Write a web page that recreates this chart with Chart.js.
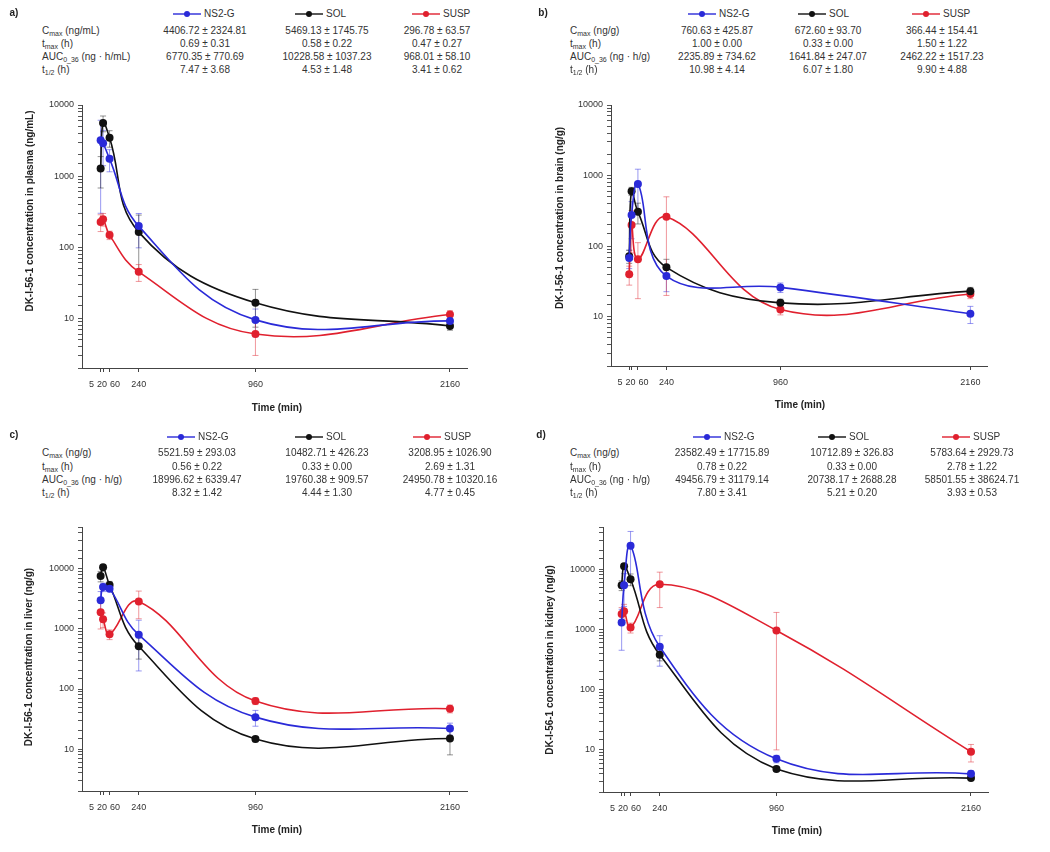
<!DOCTYPE html>
<html>
<head>
<meta charset="utf-8">
<script src="https://cdn.jsdelivr.net/npm/chart.js@4.4.1/dist/chart.umd.min.js"></script>
<style>
  body { margin: 0; background: #fff; }
  #page { position: relative; width: 1050px; height: 852px; overflow: hidden; font-family: "Liberation Sans", Arial, sans-serif; color: #333; }
  canvas { position: absolute; }
  .t { position: absolute; font-size: 10px; line-height: 1; white-space: nowrap; }
  .c { transform: translate(-50%, -50%); }
  .l { transform: translateY(-50%); }
  .b { font-weight: bold; color: #222; }
  .rot { transform: translate(-50%, -50%) rotate(-90deg); }
  sub { font-size: 7px; vertical-align: -2px; }
</style>
</head>
<body>
<div id="page"></div>
<script>
// sampling times (min) and tick labels
const times = [5, 20, 60, 240, 960, 2160];
const xTickLabels = ['5', '20', '60', '240', '960', '2160'];
const seriesNames = ['NS2-G', 'SOL', 'SUSP'];
const seriesColors = ['#2a2ad8', '#111111', '#e0202e'];
const errColors = ['rgba(70,70,230,0.55)', 'rgba(40,40,40,0.5)', 'rgba(225,50,60,0.5)'];

// a) plasma (ng/mL)
const plasmaNS2G = [3200, 2900, 1750, 198, 9.5, 9.2];
const plasmaNS2GSd = [2900, 1500, 600, 100, 4, 1.5];
const plasmaSOL = [1280, 5600, 3450, 163, 16.5, 7.8];
const plasmaSOLSd = [600, 1400, 900, 120, 9, 1];
const plasmaSUSP = [226, 248, 148, 45, 6.0, 11.3];
const plasmaSUSPSd = [60, 50, 20, 12, 3, 1.5];

// b) brain (ng/g)
const brainNS2G = [68, 277, 760, 37.6, 26, 11];
const brainNS2GSd = [20, 150, 470, 15, 4, 3];
const brainSOL = [72, 600, 306, 50, 15.7, 23];
const brainSOLSd = [15, 80, 100, 15, 2, 3];
const brainSUSP = [40, 200, 65, 260, 12.6, 21];
const brainSUSPSd = [12, 120, 47, 240, 2, 3];

// c) liver (ng/g)
const liverNS2G = [3000, 5000, 4700, 800, 34, 22];
const liverNS2GSd = [1200, 800, 500, 600, 10, 5];
const liverSOL = [7600, 10700, 5400, 515, 14.7, 15];
const liverSOLSd = [1500, 400, 800, 200, 1.5, 7];
const liverSUSP = [1900, 1450, 815, 2880, 63, 47];
const liverSUSPSd = [900, 400, 150, 1400, 8, 7];

// d) kidney (ng/g)
const kidneyNS2G = [1300, 5400, 24500, 515, 7.1, 4.0];
const kidneyNS2GSd = [850, 3000, 17700, 270, 1, 0.5];
const kidneySOL = [5400, 11200, 6800, 380, 4.8, 3.4];
const kidneySOLSd = [1000, 400, 1500, 80, 0.4, 0.3];
const kidneySUSP = [1800, 2000, 1070, 5600, 960, 9.3];
const kidneySUSPSd = [500, 600, 200, 3300, 950, 3];

// PK parameter tables
const rowLabelsPlasma = ['C<sub>max</sub> (ng/mL)', 't<sub>max</sub> (h)', 'AUC<sub>0_36</sub> (ng · h/mL)', 't<sub>1/2</sub> (h)'];
const rowLabelsTissue = ['C<sub>max</sub> (ng/g)', 't<sub>max</sub> (h)', 'AUC<sub>0_36</sub> (ng · h/g)', 't<sub>1/2</sub> (h)'];
const statsPlasma = [
  ['4406.72 ± 2324.81', '5469.13 ± 1745.75', '296.78 ± 63.57'],
  ['0.69 ± 0.31', '0.58 ± 0.22', '0.47 ± 0.27'],
  ['6770.35 ± 770.69', '10228.58 ± 1037.23', '968.01 ± 58.10'],
  ['7.47 ± 3.68', '4.53 ± 1.48', '3.41 ± 0.62']
];
const statsBrain = [
  ['760.63 ± 425.87', '672.60 ± 93.70', '366.44 ± 154.41'],
  ['1.00 ± 0.00', '0.33 ± 0.00', '1.50 ± 1.22'],
  ['2235.89 ± 734.62', '1641.84 ± 247.07', '2462.22 ± 1517.23'],
  ['10.98 ± 4.14', '6.07 ± 1.80', '9.90 ± 4.88']
];
const statsLiver = [
  ['5521.59 ± 293.03', '10482.71 ± 426.23', '3208.95 ± 1026.90'],
  ['0.56 ± 0.22', '0.33 ± 0.00', '2.69 ± 1.31'],
  ['18996.62 ± 6339.47', '19760.38 ± 909.57', '24950.78 ± 10320.16'],
  ['8.32 ± 1.42', '4.44 ± 1.30', '4.77 ± 0.45']
];
const statsKidney = [
  ['23582.49 ± 17715.89', '10712.89 ± 326.83', '5783.64 ± 2929.73'],
  ['0.78 ± 0.22', '0.33 ± 0.00', '2.78 ± 1.22'],
  ['49456.79 ± 31179.14', '20738.17 ± 2688.28', '58501.55 ± 38624.71'],
  ['7.80 ± 3.41', '5.21 ± 0.20', '3.93 ± 0.53']
];

const panels = [
  { tag: 'a)', tagPos: [14, 13], canvas: [0, 85, 525, 335], area: [82, 105, 467, 368], yMin: 2, yMax: 10000,
    series: [[plasmaNS2G, plasmaNS2GSd], [plasmaSOL, plasmaSOLSd], [plasmaSUSP, plasmaSUSPSd]],
    yTitle: 'DK-I-56-1 concentration in plasma (ng/mL)', yTitlePos: [30, 211], xTitlePos: [277, 408],
    rowLabels: rowLabelsPlasma, stats: statsPlasma, legendX: [173, 295, 412], legendY: 14,
    labelX: 42, colX: [205, 327, 437], rowY: [31, 44, 57, 70] },
  { tag: 'b)', tagPos: [543, 13], canvas: [525, 85, 525, 335], area: [611, 105, 987, 366], yMin: 2, yMax: 10000,
    series: [[brainNS2G, brainNS2GSd], [brainSOL, brainSOLSd], [brainSUSP, brainSUSPSd]],
    yTitle: 'DK-I-56-1 concentration in brain (ng/g)', yTitlePos: [560, 218], xTitlePos: [800, 405],
    rowLabels: rowLabelsTissue, stats: statsBrain, legendX: [688, 798, 912], legendY: 14,
    labelX: 570, colX: [717, 828, 942], rowY: [31, 44, 57, 70] },
  { tag: 'c)', tagPos: [14, 435], canvas: [0, 505, 525, 347], area: [82, 527, 467, 791], yMin: 2, yMax: 50000,
    series: [[liverNS2G, liverNS2GSd], [liverSOL, liverSOLSd], [liverSUSP, liverSUSPSd]],
    yTitle: 'DK-I-56-1 concentration in liver (ng/g)', yTitlePos: [29, 657], xTitlePos: [277, 830],
    rowLabels: rowLabelsTissue, stats: statsLiver, legendX: [167, 295, 413], legendY: 437,
    labelX: 42, colX: [197, 327, 450], rowY: [453, 467, 480, 493] },
  { tag: 'd)', tagPos: [541, 435], canvas: [525, 505, 525, 347], area: [603, 527, 988, 792], yMin: 2, yMax: 50000,
    series: [[kidneyNS2G, kidneyNS2GSd], [kidneySOL, kidneySOLSd], [kidneySUSP, kidneySUSPSd]],
    yTitle: 'DK-I-56-1 concentration in kidney (ng/g)', yTitlePos: [550, 660], xTitlePos: [797, 831],
    rowLabels: rowLabelsTissue, stats: statsKidney, legendX: [693, 818, 942], legendY: 437,
    labelX: 570, colX: [722, 852, 972], rowY: [453, 467, 480, 493] }
];

const page = document.getElementById('page');

function addText(html, x, y, cls) {
  const d = document.createElement('div');
  d.className = 't ' + cls;
  d.style.left = x + 'px';
  d.style.top = y + 'px';
  d.innerHTML = html;
  page.appendChild(d);
  return d;
}

// error bars drawn under the markers
const errorBars = {
  id: 'errorBars',
  beforeDatasetsDraw(chart) {
    const { ctx, chartArea, scales: { x, y } } = chart;
    ctx.save();
    ctx.lineWidth = 1;
    chart.data.datasets.forEach(ds => {
      ctx.strokeStyle = ds.errColor;
      ds.data.forEach((p, i) => {
        const sd = ds.sd[i];
        const px = x.getPixelForValue(p.x);
        const hi = Math.max(y.getPixelForValue(p.y + sd), chartArea.top);
        const lowVal = p.y - sd;
        const lo = lowVal > y.min ? y.getPixelForValue(lowVal) : chartArea.bottom;
        ctx.beginPath();
        ctx.moveTo(px, hi); ctx.lineTo(px, lo);
        ctx.moveTo(px - 3, hi); ctx.lineTo(px + 3, hi);
        if (lowVal > y.min) { ctx.moveTo(px - 3, lo); ctx.lineTo(px + 3, lo); }
        ctx.stroke();
      });
    });
    ctx.restore();
  }
};

// x tick labels, spread apart where the early times crowd together
const xLabels = {
  id: 'xLabels',
  afterDraw(chart) {
    const { ctx, chartArea, scales: { x } } = chart;
    ctx.save();
    ctx.font = '9px "Liberation Sans", Arial, sans-serif';
    ctx.fillStyle = '#333';
    ctx.textAlign = 'center';
    ctx.textBaseline = 'middle';
    const gap = 3;
    const items = times.map((t, i) => ({ text: xTickLabels[i], c: x.getPixelForValue(t), w: ctx.measureText(xTickLabels[i]).width }));
    const groups = [];
    items.forEach(it => {
      const g = groups[groups.length - 1];
      const last = g && g[g.length - 1];
      if (last && it.c - it.w / 2 < last.c + last.w / 2 + gap) g.push(it); else groups.push([it]);
    });
    const ly = chartArea.bottom + 17;
    groups.forEach(g => {
      const total = g.reduce((s, it) => s + it.w, 0) + gap * (g.length - 1);
      let left = g.reduce((s, it) => s + it.c, 0) / g.length - total / 2;
      g.forEach(it => { ctx.fillText(it.text, left + it.w / 2, ly); left += it.w + gap; });
    });
    ctx.restore();
  }
};

panels.forEach(p => {
  const [cx, cy, cw, ch] = p.canvas;
  const [aL, aT, aR, aB] = p.area;
  const canvas = document.createElement('canvas');
  canvas.width = cw; canvas.height = ch;
  canvas.style.left = cx + 'px'; canvas.style.top = cy + 'px';
  page.appendChild(canvas);

  const datasets = p.series.map((s, k) => ({
    label: seriesNames[k],
    data: times.map((t, i) => ({ x: t, y: s[0][i] })),
    sd: s[1],
    errColor: errColors[k],
    borderColor: seriesColors[k],
    backgroundColor: seriesColors[k],
    borderWidth: 1.6,
    pointRadius: 4,
    pointBorderWidth: 0,
    tension: 0.4,
    fill: false
  }));

  new Chart(canvas.getContext('2d'), {
    type: 'line',
    data: { datasets },
    options: {
      responsive: false,
      animation: false,
      layout: { padding: { left: 0, top: aT - cy, right: cx + cw - aR, bottom: 0 } },
      scales: {
        x: {
          type: 'linear', min: -110, max: 2265,
          afterBuildTicks: s => { s.ticks = times.map(v => ({ value: v })); },
          afterFit: s => { s.height = cy + ch - aB; },
          ticks: { display: false },
          grid: { drawOnChartArea: false, drawTicks: true, tickLength: 4, color: '#444' },
          border: { color: '#444', width: 1 }
        },
        y: {
          type: 'logarithmic', min: p.yMin, max: p.yMax,
          afterFit: s => { s.width = aL - cx; },
          ticks: {
            autoSkip: false,
            padding: 4,
            color: '#333',
            font: { size: 9, family: '"Liberation Sans", Arial, sans-serif' },
            callback: v => {
              const l = Math.log10(v);
              return Math.abs(l - Math.round(l)) < 1e-9 ? String(v) : '';
            }
          },
          grid: { drawOnChartArea: false, drawTicks: true, tickLength: 4, color: '#555' },
          border: { color: '#444', width: 1 }
        }
      },
      plugins: { legend: { display: false }, tooltip: { enabled: false } }
    },
    plugins: [errorBars, xLabels]
  });

  // axis titles
  addText(p.yTitle, p.yTitlePos[0], p.yTitlePos[1], 'rot b');
  addText('Time (min)', p.xTitlePos[0], p.xTitlePos[1], 'c b');

  // panel tag, legend and parameter table
  addText(p.tag, p.tagPos[0], p.tagPos[1], 'c b');
  seriesNames.forEach((name, k) => {
    const lx = p.legendX[k];
    addText('<svg width="28" height="8" style="display:block"><line x1="0" y1="4" x2="28" y2="4" stroke="' + seriesColors[k] +
      '" stroke-width="1.4"/><circle cx="14" cy="4" r="3" fill="' + seriesColors[k] + '"/></svg>', lx, p.legendY, 'l');
    addText(name, lx + 31, p.legendY, 'l');
  });
  p.rowLabels.forEach((lab, r) => {
    addText(lab, p.labelX, p.rowY[r], 'l');
    p.stats[r].forEach((val, k) => addText(val, p.colX[k], p.rowY[r], 'c'));
  });
});
</script>
</body>
</html>
